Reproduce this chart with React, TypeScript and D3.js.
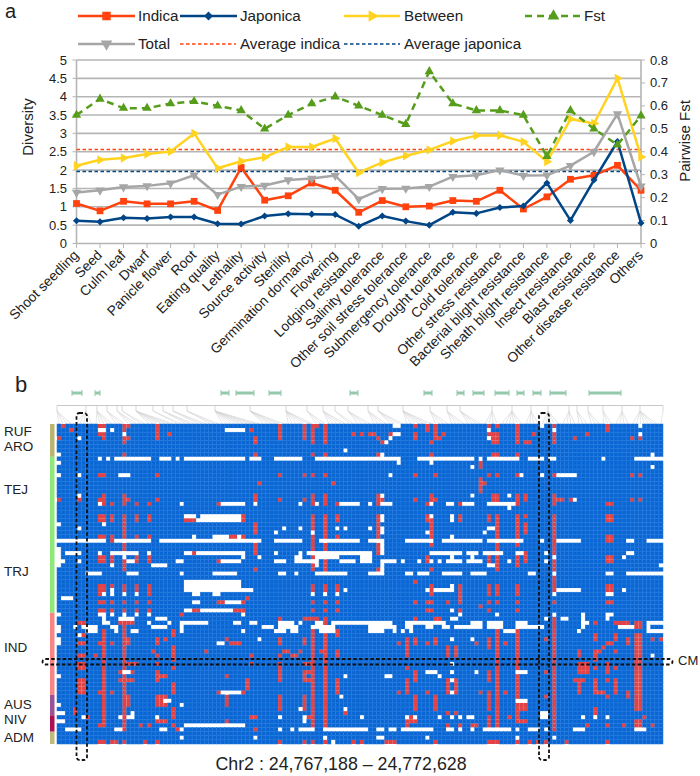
import * as d3 from 'd3';

const categories = ['Shoot seedling', 'Seed', 'Culm leaf', 'Dwarf', 'Panicle flower', 'Root', 'Eating quality', 'Lethality', 'Source activity', 'Sterility', 'Germination dormancy', 'Flowering', 'Lodging resistance', 'Salinity tolerance', 'Other soil stress tolerance', 'Submergency tolerance', 'Drought tolerance', 'Cold tolerance', 'Other stress resistance', 'Bacterial blight resistance', 'Sheath blight resistance', 'Insect resistance', 'Blast resistance', 'Other disease resistance', 'Others'];
const indica = [1.09, 0.89, 1.15, 1.08, 1.08, 1.15, 0.9, 2.07, 1.18, 1.3, 1.65, 1.45, 0.85, 1.17, 1.0, 1.02, 1.17, 1.15, 1.45, 0.94, 1.27, 1.75, 1.86, 2.13, 1.45];
const japonica = [0.62, 0.59, 0.7, 0.68, 0.72, 0.72, 0.54, 0.53, 0.75, 0.81, 0.8, 0.79, 0.47, 0.75, 0.61, 0.5, 0.85, 0.82, 0.98, 1.02, 1.65, 0.63, 1.73, 2.78, 0.56];
const between = [2.12, 2.28, 2.33, 2.44, 2.51, 3.0, 2.05, 2.24, 2.35, 2.63, 2.63, 2.86, 1.93, 2.21, 2.39, 2.55, 2.79, 2.94, 2.95, 2.77, 2.23, 3.39, 3.27, 4.5, 2.36];
const total = [1.39, 1.45, 1.54, 1.57, 1.64, 1.86, 1.33, 1.55, 1.58, 1.73, 1.77, 1.85, 1.21, 1.49, 1.5, 1.55, 1.82, 1.86, 2.0, 1.85, 1.86, 2.12, 2.5, 3.53, 1.56];
const fst = [0.56, 0.63, 0.59, 0.59, 0.61, 0.62, 0.6, 0.58, 0.5, 0.56, 0.61, 0.64, 0.6, 0.56, 0.52, 0.75, 0.61, 0.58, 0.58, 0.56, 0.38, 0.58, 0.5, 0.43, 0.557];
const averageIndica = 2.56;
const averageJaponica = 1.96;
const leftTicks = [0, 0.5, 1, 1.5, 2, 2.5, 3, 3.5, 4, 4.5, 5];
const rightTicks = [0, 0.1, 0.2, 0.3, 0.4, 0.5, 0.6, 0.7, 0.8];

const columnCount = 148;
const rowCount = 78;

// [firstRow, lastRow, firstCol, lastCol], inclusive
const redLeftTop = [
  [0, 0, 1, 1], [1, 1, 3, 3], [0, 0, 10, 11], [2, 3, 11, 11], [2, 2, 10, 10], [0, 4, 16, 16], [0, 0, 17, 17], [3, 3, 17, 17], [0, 3, 24, 24], [2, 2, 27, 27], [3, 3, 0, 0],
  [7, 7, 16, 16], [12, 12, 10, 11], [12, 12, 24, 24], [17, 19, 16, 16], [22, 35, 16, 16], [18, 18, 0, 0], [18, 18, 5, 5], [17, 19, 11, 11], [18, 18, 10, 10], [18, 18, 17, 17], [18, 18, 24, 24],
  [19, 19, 13, 13], [19, 19, 19, 19], [19, 19, 22, 22], [19, 19, 39, 39],
  [22, 22, 10, 11], [22, 22, 13, 13], [22, 22, 19, 19], [22, 22, 22, 22], [23, 23, 10, 11], [23, 23, 13, 13], [23, 23, 19, 19], [23, 23, 22, 22], [23, 23, 31, 33],
  [27, 27, 10, 11], [27, 28, 13, 13], [27, 27, 19, 19], [27, 27, 22, 22], [27, 27, 42, 43],
  [31, 31, 33, 33], [32, 32, 10, 11], [32, 32, 13, 13], [32, 32, 19, 19], [32, 32, 22, 22], [33, 33, 10, 11], [33, 33, 13, 13], [33, 33, 19, 19], [33, 33, 22, 22], [33, 33, 39, 39],
  [39, 41, 10, 11], [39, 41, 13, 13], [39, 41, 16, 16], [39, 41, 19, 19], [39, 41, 22, 22], [40, 40, 42, 44],
  [43, 43, 10, 11], [43, 43, 13, 13], [43, 43, 16, 16], [43, 43, 19, 19], [43, 43, 22, 22], [43, 43, 39, 40],
  [45, 45, 10, 11], [45, 45, 13, 13], [45, 45, 16, 16], [45, 45, 19, 19], [45, 45, 22, 22], [45, 45, 33, 34], [45, 45, 43, 44], [46, 46, 30, 30],
];

const redMiddleTop = [
  [0, 3, 54, 54], [0, 3, 60, 60], [0, 4, 62, 62], [0, 0, 63, 63], [0, 4, 65, 65], [2, 2, 72, 72], [2, 2, 74, 74], [2, 2, 76, 76], [2, 2, 77, 77], [3, 3, 78, 78], [4, 4, 79, 79], [2, 2, 81, 82],
  [0, 0, 87, 87], [2, 3, 87, 87], [0, 1, 90, 90], [0, 3, 92, 92], [4, 4, 91, 91], [3, 3, 93, 93], [2, 2, 94, 94], [3, 4, 48, 48], [1, 1, 47, 47],
  [7, 7, 48, 48], [7, 7, 62, 62], [7, 7, 65, 65], [7, 7, 78, 78], [7, 7, 91, 91],
  [12, 12, 54, 54], [12, 12, 60, 60], [12, 12, 62, 62], [12, 12, 65, 65], [12, 12, 87, 87], [12, 12, 92, 92], [14, 14, 49, 49], [14, 14, 67, 67],
  [17, 18, 48, 48], [17, 19, 62, 62], [17, 19, 65, 65], [17, 18, 78, 78], [18, 18, 79, 79], [17, 18, 91, 91], [18, 18, 92, 92], [18, 18, 54, 54], [18, 18, 60, 60], [18, 18, 87, 87],
  [19, 19, 68, 68], [19, 19, 78, 78], [19, 19, 90, 90], [19, 19, 98, 98],
  [22, 22, 45, 45], [22, 22, 68, 68], [22, 22, 78, 78], [22, 22, 90, 90], [22, 22, 98, 98], [23, 23, 45, 45], [23, 23, 68, 68], [23, 23, 78, 78], [23, 23, 90, 91], [23, 23, 98, 98],
  [24, 26, 48, 48], [22, 35, 62, 62], [22, 35, 65, 65], [24, 27, 78, 78], [24, 29, 91, 91], [27, 27, 68, 68], [27, 27, 45, 45], [29, 31, 48, 48], [29, 31, 78, 78], [32, 32, 90, 90], [33, 33, 90, 90], [35, 35, 48, 48], [35, 35, 78, 78], [35, 35, 91, 91],
  [39, 41, 62, 62], [39, 41, 65, 65], [39, 41, 68, 68], [39, 41, 91, 91], [38, 38, 87, 87], [39, 42, 98, 98], [42, 42, 46, 46], [43, 43, 45, 45], [43, 43, 62, 62], [43, 43, 65, 65], [43, 43, 68, 68], [43, 43, 87, 87], [43, 43, 90, 91], [43, 43, 95, 95], [43, 43, 98, 98],
  [45, 45, 45, 45], [45, 45, 65, 65], [45, 45, 68, 68], [45, 45, 62, 62], [45, 45, 90, 91], [45, 45, 98, 98],
];

const redRightTop = [
  [0, 3, 105, 105], [0, 0, 107, 107], [2, 4, 106, 107], [0, 4, 112, 112], [4, 4, 114, 115], [2, 2, 116, 116], [0, 4, 121, 121], [3, 3, 126, 126], [2, 2, 129, 129], [0, 1, 134, 134], [3, 3, 140, 140], [3, 3, 142, 142],
  [7, 7, 106, 107], [7, 7, 112, 112], [9, 9, 103, 103], [10, 10, 103, 103], [12, 12, 105, 105], [12, 12, 107, 107], [12, 12, 112, 112], [12, 12, 121, 121], [12, 12, 140, 140], [12, 12, 142, 142],
  [13, 16, 103, 103], [14, 14, 104, 104], [17, 18, 106, 107], [17, 19, 112, 112], [17, 18, 114, 114], [17, 19, 121, 121], [18, 18, 122, 123], [18, 18, 125, 125], [18, 18, 140, 140], [18, 18, 142, 142], [19, 19, 134, 135],
  [22, 35, 107, 107], [22, 29, 112, 112], [22, 22, 114, 114], [24, 26, 114, 114], [22, 41, 121, 121], [22, 22, 105, 105], [23, 23, 105, 105], [22, 22, 134, 135], [23, 23, 134, 135], [27, 28, 134, 135],
  [32, 33, 105, 105], [31, 34, 112, 112], [31, 33, 114, 114], [32, 33, 134, 135],
  [39, 41, 105, 105], [39, 41, 107, 107], [39, 41, 112, 112], [39, 41, 134, 135], [43, 43, 105, 105], [43, 43, 107, 107], [43, 43, 112, 112], [43, 43, 121, 121], [43, 43, 134, 135], [44, 44, 103, 103],
  [45, 45, 105, 105], [45, 45, 112, 112], [47, 47, 119, 119], [47, 47, 128, 128],
];

const redLeftBottom = [
  [48, 48, 5, 6], [47, 48, 15, 18], [47, 47, 24, 24], [50, 73, 11, 11], [49, 74, 16, 16], [51, 51, 5, 6], [53, 53, 5, 6], [56, 56, 5, 6], [58, 58, 5, 6], [59, 59, 5, 6], [62, 65, 5, 6],
  [52, 53, 17, 17], [66, 68, 17, 17], [53, 53, 10, 10], [53, 53, 13, 13], [65, 65, 10, 10], [65, 65, 13, 13], [56, 56, 9, 9],
  [52, 53, 24, 24], [52, 52, 26, 26], [60, 62, 24, 24], [61, 61, 25, 26], [50, 51, 28, 28], [54, 56, 28, 28], [59, 59, 28, 28], [57, 57, 28, 28], [63, 65, 28, 28], [69, 71, 28, 28],
  [55, 55, 23, 23], [56, 56, 24, 24], [58, 58, 24, 24], [55, 55, 36, 36], [52, 52, 41, 41], [61, 61, 41, 41], [66, 68, 41, 41], [72, 72, 41, 41], [53, 53, 42, 44], [65, 65, 39, 39],
  [58, 58, 16, 19], [60, 60, 15, 18], [62, 62, 15, 18], [66, 68, 24, 26], [69, 70, 4, 4], [71, 71, 7, 7], [72, 72, 24, 26], [73, 73, 28, 28], [74, 74, 29, 29], [73, 73, 20, 20], [73, 73, 22, 22], [73, 73, 10, 11],
  [77, 77, 10, 11], [77, 77, 13, 14], [77, 77, 16, 16], [77, 77, 21, 21], [77, 77, 24, 24],
];

const redMiddleBottom = [
  [47, 48, 54, 54], [47, 47, 60, 63], [47, 48, 65, 65], [47, 48, 87, 87], [47, 48, 92, 93],
  [50, 74, 62, 62], [50, 74, 65, 65], [50, 51, 68, 68], [55, 56, 68, 68], [62, 65, 68, 68], [52, 53, 54, 54], [52, 53, 60, 60], [52, 53, 85, 85], [52, 53, 87, 87], [52, 53, 92, 92],
  [53, 53, 83, 83], [53, 53, 90, 90], [54, 56, 95, 95], [54, 56, 97, 97], [54, 56, 85, 85], [55, 55, 55, 56], [55, 55, 59, 59], [55, 55, 64, 64], [56, 56, 47, 47], [56, 56, 57, 58], [56, 56, 54, 54],
  [58, 58, 47, 47], [58, 58, 60, 61], [58, 58, 54, 54], [59, 59, 54, 54], [60, 62, 54, 54], [60, 62, 60, 60], [60, 60, 61, 61], [62, 62, 61, 61], [60, 62, 87, 87], [59, 59, 85, 85], [60, 60, 92, 92],
  [62, 64, 46, 46], [62, 65, 85, 85], [62, 65, 95, 95], [62, 65, 97, 97], [65, 65, 45, 45], [65, 65, 83, 83], [65, 65, 90, 90],
  [66, 69, 54, 54], [66, 69, 60, 60], [66, 69, 87, 87], [66, 69, 92, 92], [70, 70, 70, 70], [70, 70, 95, 95], [70, 70, 97, 97], [71, 71, 54, 54], [71, 71, 60, 61], [71, 71, 85, 86], [71, 71, 87, 87], [71, 71, 47, 48], [72, 72, 85, 87], [73, 73, 85, 85], [73, 73, 95, 95], [73, 73, 98, 98], [74, 74, 48, 48],
  [77, 77, 54, 54], [77, 77, 60, 60], [77, 77, 62, 62], [77, 77, 65, 65], [77, 77, 72, 72], [77, 77, 74, 74], [77, 77, 80, 82], [77, 77, 92, 92],
];

const redRightBottom = [
  [48, 73, 107, 107], [48, 72, 112, 112], [46, 74, 121, 121], [48, 49, 141, 142], [48, 48, 131, 131], [48, 48, 136, 137], [48, 48, 138, 139], [51, 52, 131, 131], [51, 52, 136, 136], [51, 52, 141, 142],
  [52, 54, 105, 105], [53, 53, 102, 102], [53, 53, 109, 109], [52, 52, 119, 119], [52, 52, 139, 139], [53, 53, 139, 139], [52, 52, 136, 136], [53, 53, 135, 135], [53, 53, 134, 134], [54, 54, 133, 133], [55, 55, 132, 132], [52, 52, 145, 145], [52, 52, 147, 147],
  [55, 55, 127, 127], [55, 57, 131, 131], [55, 55, 136, 136], [53, 57, 141, 142], [56, 56, 127, 127], [58, 60, 127, 129], [59, 59, 131, 131], [59, 59, 136, 136], [58, 60, 134, 134], [58, 60, 141, 142], [60, 60, 119, 119], [61, 61, 141, 142],
  [60, 62, 105, 105], [62, 62, 126, 128], [62, 65, 127, 127], [62, 65, 131, 131], [62, 65, 136, 136], [62, 65, 141, 142], [62, 62, 134, 134], [65, 65, 103, 103], [65, 65, 109, 109], [65, 65, 132, 133], [65, 66, 139, 139], [66, 66, 119, 119], [66, 66, 134, 134],
  [65, 69, 105, 105], [68, 69, 113, 114], [66, 69, 141, 142], [69, 70, 131, 131], [71, 71, 110, 110], [71, 71, 105, 105], [71, 71, 143, 143], [72, 72, 112, 114], [72, 72, 105, 105], [73, 73, 101, 102], [73, 73, 105, 105], [73, 73, 129, 129], [73, 73, 134, 134], [73, 73, 145, 145], [72, 72, 141, 142], [73, 73, 141, 142], [73, 73, 138, 138],
  [77, 77, 105, 107], [77, 77, 112, 112], [77, 77, 115, 115], [77, 77, 117, 117], [77, 77, 119, 119], [77, 77, 124, 124], [77, 77, 134, 134],
];

const whiteLeft = [
  [1, 1, 10, 11], [1, 1, 13, 13], [2, 2, 16, 16], [1, 1, 41, 44], [7, 7, 0, 0], [9, 9, 0, 0], [8, 8, 10, 10], [8, 8, 12, 12], [8, 8, 14, 22], [8, 8, 25, 27], [8, 8, 29, 29], [8, 8, 31, 44],
  [12, 12, 0, 0], [12, 12, 5, 5], [12, 12, 15, 17], [3, 3, 5, 5], [17, 17, 5, 5], [19, 19, 10, 10], [19, 19, 30, 30], [19, 19, 40, 44],
  [22, 22, 31, 33], [22, 22, 35, 44], [23, 23, 34, 44], [24, 24, 0, 0], [24, 24, 11, 11], [25, 25, 5, 5],
  [27, 27, 33, 33], [27, 27, 38, 41], [27, 27, 44, 44], [28, 28, 0, 11], [28, 28, 14, 22], [28, 28, 25, 44],
  [30, 34, 0, 0], [31, 31, 2, 5], [31, 31, 10, 10], [31, 31, 13, 19], [31, 31, 22, 22], [31, 31, 31, 32], [31, 31, 34, 44], [33, 33, 0, 1], [32, 32, 16, 16], [33, 33, 5, 5], [33, 33, 17, 18], [33, 33, 29, 30], [33, 33, 40, 44], [34, 34, 13, 13], [34, 34, 23, 26],
  [36, 36, 7, 10], [36, 36, 17, 19], [36, 36, 30, 30], [36, 36, 38, 43], [38, 40, 31, 44], [40, 40, 13, 13], [41, 41, 11, 11], [41, 41, 13, 13], [41, 41, 16, 16], [41, 41, 19, 19], [41, 41, 33, 34], [41, 41, 38, 39],
  [42, 42, 1, 3], [43, 43, 33, 34], [43, 43, 41, 44], [45, 45, 31, 32], [45, 45, 35, 42], [46, 46, 0, 0], [46, 46, 10, 11], [46, 46, 13, 13], [46, 46, 16, 16], [46, 46, 19, 19], [46, 46, 22, 22],
  [47, 47, 11, 11], [47, 47, 15, 18], [48, 48, 11, 12], [48, 48, 22, 22], [47, 47, 24, 26], [48, 48, 27, 27], [48, 48, 31, 36], [48, 48, 43, 44], [48, 50, 30, 30],
  [49, 49, 0, 0], [49, 49, 4, 4], [49, 50, 7, 9], [49, 49, 6, 6], [49, 49, 13, 14], [49, 49, 23, 26], [50, 50, 0, 0], [50, 50, 14, 14], [50, 50, 18, 19],
  [52, 53, 0, 0], [51, 51, 5, 5], [53, 53, 39, 40], [61, 61, 0, 0], [60, 60, 16, 17], [65, 65, 40, 44], [67, 67, 26, 27], [68, 68, 30, 30], [68, 68, 0, 0],
  [70, 70, 0, 1], [71, 71, 15, 15], [70, 71, 18, 18], [71, 71, 17, 17], [71, 71, 24, 24], [71, 71, 6, 6], [72, 72, 0, 1], [73, 73, 31, 44], [74, 74, 2, 5], [74, 74, 14, 15], [74, 74, 25, 26], [74, 74, 30, 30], [76, 76, 30, 30],
];

const whiteMiddle = [
  [1, 1, 45, 45], [0, 0, 82, 83], [2, 2, 82, 83], [3, 3, 81, 81], [4, 4, 80, 80], [6, 6, 70, 70],
  [8, 8, 45, 45], [8, 8, 47, 49], [8, 8, 53, 59], [8, 8, 63, 83], [9, 9, 83, 83], [8, 8, 88, 100], [7, 7, 79, 79], [9, 9, 91, 91], [12, 12, 81, 81],
  [17, 17, 79, 79], [19, 19, 45, 45], [19, 19, 48, 48], [19, 19, 59, 59], [19, 19, 63, 63], [19, 19, 69, 73], [19, 19, 76, 76], [19, 19, 79, 81], [19, 19, 91, 91], [19, 19, 95, 96], [19, 19, 99, 100],
  [22, 22, 79, 79], [22, 22, 91, 91], [22, 22, 96, 96], [23, 23, 79, 79], [23, 23, 96, 96], [25, 25, 55, 55], [25, 25, 59, 59], [25, 25, 68, 68], [25, 25, 70, 70], [25, 25, 76, 76], [25, 26, 79, 79], [26, 26, 53, 53], [26, 26, 90, 90], [26, 26, 62, 62],
  [28, 28, 45, 49], [28, 28, 53, 59], [28, 28, 64, 73], [28, 28, 76, 79], [28, 28, 85, 91], [28, 28, 94, 100], [27, 27, 96, 96], [29, 31, 79, 79],
  [31, 31, 45, 45], [31, 31, 53, 53], [31, 31, 59, 59], [31, 31, 61, 76], [31, 31, 91, 98], [31, 31, 100, 100], [32, 32, 45, 45], [32, 32, 96, 96], [32, 32, 49, 49], [32, 32, 63, 68],
  [32, 33, 58, 59], [32, 33, 74, 76], [33, 33, 53, 55], [33, 33, 60, 62], [33, 34, 63, 63], [33, 33, 69, 72], [33, 33, 79, 82], [33, 33, 84, 84], [33, 33, 88, 88], [33, 33, 91, 91], [33, 33, 93, 93], [33, 33, 95, 98], [33, 33, 100, 100], [34, 35, 79, 79],
  [36, 36, 54, 55], [36, 36, 58, 58], [36, 36, 63, 69], [36, 36, 70, 70], [36, 36, 76, 79], [36, 36, 85, 86], [36, 36, 88, 90], [36, 36, 94, 98],
  [40, 40, 45, 47], [40, 40, 70, 70], [40, 40, 90, 90], [40, 40, 92, 95], [39, 40, 96, 96], [41, 41, 62, 62], [41, 41, 65, 65], [41, 41, 68, 68],
  [45, 45, 96, 96], [46, 46, 45, 45], [46, 46, 98, 98], [47, 47, 96, 97],
  [48, 48, 47, 48], [48, 48, 54, 57], [48, 48, 59, 59], [48, 48, 63, 64], [48, 48, 67, 81], [48, 48, 85, 89], [48, 48, 90, 94], [49, 49, 50, 52], [49, 49, 54, 58], [49, 49, 62, 67], [49, 49, 76, 82], [49, 49, 85, 86], [49, 49, 90, 91], [49, 49, 94, 95], [49, 49, 97, 100],
  [50, 50, 45, 45], [50, 50, 53, 55], [50, 50, 57, 58], [50, 50, 64, 67], [50, 50, 76, 79], [50, 50, 82, 82], [50, 50, 84, 84], [50, 50, 86, 86],
  [52, 52, 49, 49], [52, 52, 96, 96], [61, 61, 70, 70], [61, 61, 80, 81], [60, 60, 90, 92], [61, 61, 93, 93], [58, 58, 96, 96], [60, 60, 96, 96], [62, 62, 96, 96], [65, 65, 96, 96], [66, 66, 69, 69], [69, 69, 59, 59], [69, 69, 70, 70],
  [71, 71, 54, 54], [71, 71, 74, 74], [71, 71, 60, 60], [71, 71, 85, 85], [71, 71, 87, 87], [71, 71, 93, 93], [71, 71, 96, 96], [71, 71, 98, 98], [71, 71, 100, 100], [72, 72, 60, 60],
  [73, 73, 45, 45], [74, 74, 54, 54], [74, 74, 57, 57], [74, 74, 59, 62], [74, 74, 65, 69], [74, 74, 70, 75], [74, 74, 78, 79], [74, 74, 81, 82], [74, 74, 84, 91], [74, 74, 95, 96], [74, 74, 98, 98],
  [76, 76, 48, 48], [76, 76, 65, 65], [76, 76, 78, 79], [76, 76, 90, 90], [77, 77, 67, 67],
];

const whiteRight = [
  [1, 1, 105, 105], [3, 3, 105, 105], [0, 0, 118, 118], [1, 1, 121, 121], [0, 0, 142, 142], [2, 2, 142, 142],
  [8, 8, 101, 101], [8, 8, 103, 103], [8, 8, 105, 112], [8, 8, 115, 118], [8, 8, 120, 121], [8, 8, 133, 133], [8, 8, 141, 147], [7, 7, 145, 145], [10, 10, 101, 101], [10, 10, 145, 145],
  [12, 12, 113, 113], [12, 12, 118, 118], [12, 12, 122, 126], [17, 17, 101, 101], [17, 17, 110, 110], [18, 18, 126, 126], [19, 19, 101, 101], [19, 19, 105, 111], [20, 20, 110, 110],
  [25, 25, 105, 106], [26, 26, 104, 104], [28, 28, 101, 103], [28, 28, 105, 113], [28, 28, 118, 118], [28, 28, 122, 127], [28, 28, 139, 140], [28, 28, 144, 147],
  [31, 31, 101, 102], [31, 31, 104, 108], [31, 31, 112, 113], [31, 31, 119, 119], [31, 31, 139, 140], [32, 32, 101, 101], [32, 32, 121, 121], [32, 32, 138, 138], [33, 33, 101, 103], [34, 34, 105, 106], [33, 33, 110, 110], [33, 33, 119, 119], [34, 34, 147, 147],
  [36, 36, 101, 104], [36, 36, 115, 116], [36, 36, 121, 121], [36, 36, 134, 135], [36, 36, 139, 147], [40, 40, 122, 127], [41, 41, 121, 121], [40, 40, 138, 138], [41, 41, 134, 135],
  [46, 46, 107, 107], [46, 46, 121, 121], [46, 46, 134, 135], [47, 47, 123, 124], [47, 47, 119, 119], [47, 47, 134, 134],
  [48, 49, 101, 103], [48, 49, 105, 108], [50, 50, 109, 111], [48, 49, 112, 114], [49, 49, 115, 117], [49, 49, 118, 118], [46, 49, 128, 128], [48, 48, 129, 129], [50, 50, 127, 127], [49, 49, 137, 138], [49, 49, 139, 140], [48, 48, 144, 147], [48, 50, 144, 144], [50, 50, 145, 147], [49, 49, 106, 107],
  [52, 52, 101, 101], [56, 56, 145, 145], [60, 60, 112, 114], [60, 60, 102, 102], [67, 67, 112, 114], [70, 71, 118, 119], [71, 71, 101, 101], [71, 71, 128, 128], [71, 71, 131, 131], [71, 71, 134, 134], [74, 74, 101, 101], [74, 74, 104, 110], [74, 74, 112, 112], [74, 74, 115, 117], [74, 74, 119, 119], [74, 74, 126, 128], [74, 74, 141, 143], [76, 76, 112, 112], [76, 76, 121, 121],
];

const redBlocks = [...redLeftTop, ...redMiddleTop, ...redRightTop, ...redLeftBottom, ...redMiddleBottom, ...redRightBottom];
const whiteBlocks = [...whiteLeft, ...whiteMiddle, ...whiteRight];

const groupNames = ['RUF/ARO', 'TEJ/TRJ', 'IND', 'AUS', 'NIV', 'ADM'];
const groupRows = [8, 46, 66, 71, 75, 78];
const groupColors = ['#b9b56f', '#8ee87a', '#f98484', '#9b5295', '#ad0f52', '#c0bb7a'];
const groupLabels = ['RUF', 'ARO', 'TEJ', 'TRJ', 'IND', 'AUS', 'NIV', 'ADM'];
const groupLabelY = [436, 451, 494, 576, 652, 709, 724, 742];

// genes above the heatmap, start/end in pixels of the track
const geneStarts = [72, 95, 221, 236, 269, 350, 424, 457, 473, 495, 517, 533, 550, 589];
const geneEnds = [82, 100, 229, 254, 281, 358, 432, 464, 484, 509, 524, 541, 566, 621];

// [position on the track, first column, last column]
const snpFans = [[57, 0, 3], [86, 4, 8], [97, 9, 13], [107, 14, 16], [117, 17, 19], [122, 20, 21], [136, 22, 28], [153, 29, 30], [163, 31, 33], [173, 34, 36], [187, 37, 39], [215, 40, 49], [250, 50, 55], [286, 56, 62], [307, 63, 65], [323, 66, 70], [335, 71, 72], [348, 73, 76], [368, 77, 80], [378, 81, 84], [403, 85, 91], [430, 92, 95], [447, 96, 99], [460, 100, 103], [492, 104, 107], [512, 108, 113], [531, 114, 117], [548, 118, 122], [569, 123, 126], [577, 127, 129], [588, 130, 132], [603, 133, 135], [622, 136, 139], [640, 140, 146], [663, 147, 147]];

const FONT = '"Liberation Sans", Arial, sans-serif';
const TEXT = '#222';
const GRID = '#b5b5b5';
const RED = '#ff420e';
const NAVY = '#004586';
const YELLOW = '#ffd320';
const GREEN = '#579d1c';
const GREY = '#a6a6a6';

const x = d3.scalePoint<number>().domain(d3.range(categories.length)).range([76.5, 641]);
const yLeft = d3.scaleLinear().domain([0, 5]).range([243.5, 60]);
const yRight = d3.scaleLinear().domain([0, 0.8]).range([243.5, 60]);

const colX = d3.scaleBand<number>().domain(d3.range(columnCount)).range([57, 663]);
const rowY = d3.scaleBand<number>().domain(d3.range(rowCount)).range([424, 744]);

const lineOf = (scale: d3.ScaleLinear<number, number>) =>
  d3.line<number>().x((_, i) => x(i) as number).y((d) => scale(d));

const symbolPath = (type: d3.SymbolType, size: number) => d3.symbol().type(type).size(size)() as string;

const squareMark = symbolPath(d3.symbolSquare, 46);
const diamondMark = symbolPath(d3.symbolSquare, 25);
const triangleMark = symbolPath(d3.symbolTriangle, 38);

const series = [
  { name: 'Indica', values: indica, scale: yLeft, color: RED, mark: squareMark, turn: 0, dash: undefined },
  { name: 'Japonica', values: japonica, scale: yLeft, color: NAVY, mark: diamondMark, turn: 45, dash: undefined },
  { name: 'Between', values: between, scale: yLeft, color: YELLOW, mark: triangleMark, turn: 90, dash: undefined },
  { name: 'Fst', values: fst, scale: yRight, color: GREEN, mark: triangleMark, turn: 0, dash: '7 5' },
  { name: 'Total', values: total, scale: yLeft, color: GREY, mark: triangleMark, turn: 180, dash: undefined },
];

// matrix of the heatmap: 0 blue, 1 red, 2 white
const cells = d3.range(rowCount).map(() => d3.range(columnCount).map(() => 0));
const paint = (blocks: number[][], v: number) =>
  blocks.forEach(([r0, r1, c0, c1]) => {
    for (let r = r0; r <= r1; r++) for (let c = c0; c <= c1; c++) cells[r][c] = v;
  });
paint(redBlocks, 1);
paint(whiteBlocks, 2);
const cellColors = ['#0a66d2', '#e04245', '#ffffff'];

const legendRows = [
  { y: 16, x1: 78, x2: 135, textX: 138, s: 0 },
  { y: 16, x1: 180, x2: 237, textX: 240, s: 1 },
  { y: 16, x1: 344, x2: 400, textX: 404, s: 2 },
  { y: 16, x1: 525, x2: 582, textX: 584, s: 3 },
  { y: 44, x1: 78, x2: 135, textX: 138, s: 4 },
];

const DashedBox = ({ bx, by, w, h }: { bx: number; by: number; w: number; h: number }) => (
  <rect x={bx} y={by} width={w} height={h} rx={3} fill="none" stroke="#111" strokeWidth={1.8} strokeDasharray="3.5 2.2" />
);

const App = () => {
  return (
    <svg width={700} height={776} style={{ position: 'absolute', left: 0, top: 0, background: '#fff' }} fontFamily={FONT}>
      <text x={5} y={18} fontSize={20} fill={TEXT}>a</text>

      {/* legend */}
      {legendRows.map((l) => {
        const s = series[l.s];
        return (
          <g key={s.name}>
            <line x1={l.x1} x2={l.x2} y1={l.y} y2={l.y} stroke={s.color} strokeWidth={2.5} strokeDasharray={s.dash} />
            <path d={s.mark} transform={`translate(${(l.x1 + l.x2) / 2},${l.y}) rotate(${s.turn}) scale(1.25)`} fill={s.color} />
            <text x={l.textX} y={l.y + 5} fontSize={15.2} fill={TEXT}>{s.name}</text>
          </g>
        );
      })}
      <line x1={180} x2={236} y1={44} y2={44} stroke={RED} strokeWidth={1.5} strokeDasharray="3.5 2.5" />
      <text x={240} y={49} fontSize={15.2} fill={TEXT}>Average indica</text>
      <line x1={344} x2={400} y1={44} y2={44} stroke={NAVY} strokeWidth={1.5} strokeDasharray="3.5 2.5" />
      <text x={404} y={49} fontSize={15.2} fill={TEXT}>Average japonica</text>

      {/* grid and axes */}
      {leftTicks.map((t) => (
        <g key={t}>
          <line x1={76.5} x2={641} y1={yLeft(t)} y2={yLeft(t)} stroke={GRID} strokeWidth={1.6} />
          <line x1={72.5} x2={76.5} y1={yLeft(t)} y2={yLeft(t)} stroke={GRID} strokeWidth={1} />
          <text x={67} y={yLeft(t) + 4.5} fontSize={13} textAnchor="end" fill={TEXT}>{t}</text>
        </g>
      ))}
      {rightTicks.map((t) => (
        <g key={t}>
          <line x1={641} x2={645} y1={yRight(t)} y2={yRight(t)} stroke={GRID} strokeWidth={1} />
          <text x={650} y={yRight(t) + 4.5} fontSize={13} fill={TEXT}>{t}</text>
        </g>
      ))}
      <line x1={76.5} x2={76.5} y1={60} y2={243.5} stroke={GRID} strokeWidth={1.6} />
      <line x1={641} x2={641} y1={60} y2={243.5} stroke={GRID} strokeWidth={1.6} />
      <text transform="translate(33,127) rotate(-90)" fontSize={15} textAnchor="middle" fill={TEXT}>Diversity</text>
      <text transform="translate(690,141) rotate(-90)" fontSize={15} textAnchor="middle" fill={TEXT}>Pairwise Fst</text>
      {categories.map((c, i) => (
        <g key={c}>
          <line x1={x(i)} x2={x(i)} y1={243.5} y2={248} stroke={GRID} strokeWidth={1} />
          <text transform={`translate(${(x(i) as number) + 3},${256}) rotate(-45)`} fontSize={13.8} textAnchor="end" fill={TEXT}>{c}</text>
        </g>
      ))}

      <line x1={76.5} x2={641} y1={yLeft(averageIndica)} y2={yLeft(averageIndica)} stroke={RED} strokeWidth={1.5} strokeDasharray="3.5 2.5" />
      <line x1={76.5} x2={641} y1={yLeft(averageJaponica)} y2={yLeft(averageJaponica)} stroke={NAVY} strokeWidth={1.5} strokeDasharray="3.5 2.5" />

      {/* series */}
      {series.map((s) => (
        <g key={s.name}>
          <path d={lineOf(s.scale)(s.values) as string} fill="none" stroke={s.color} strokeWidth={2.5} strokeLinejoin="round" strokeDasharray={s.dash} />
          {s.values.map((v, i) => (
            <path key={i} d={s.mark} transform={`translate(${x(i)},${s.scale(v)}) rotate(${s.turn})`} fill={s.color} />
          ))}
        </g>
      ))}

      <text x={15} y={392} fontSize={22} fill={TEXT}>b</text>

      {/* gene track */}
      {geneStarts.map((g, i) => (
        <g key={g} stroke="#93c9aa">
          <line x1={g} x2={geneEnds[i]} y1={393} y2={393} strokeWidth={3} />
          <line x1={g} x2={g} y1={390} y2={396} strokeWidth={1} />
          <line x1={geneEnds[i]} x2={geneEnds[i]} y1={390} y2={396} strokeWidth={1} />
        </g>
      ))}

      {/* connectors from track to columns */}
      <line x1={57} x2={663} y1={405.5} y2={405.5} stroke="#c8c8c8" strokeWidth={1} />
      {snpFans.map(([pos, c0, c1]) => (
        <g key={pos} stroke="#d4d4d4" strokeWidth={0.6} fill="none">
          <line x1={pos} x2={pos} y1={405.5} y2={411} stroke="#bdbdbd" />
          {d3.range(c0, c1 + 1).map((c) => (
            <line key={c} x1={pos} y1={411} x2={(colX(c) as number) + colX.bandwidth() / 2} y2={424} />
          ))}
        </g>
      ))}

      {/* heatmap */}
      <g strokeWidth={0.5}>
        {cells.map((row, r) =>
          row.map((v, c) => (
            <rect
              key={`${r}-${c}`}
              x={colX(c)}
              y={rowY(r)}
              width={colX.bandwidth()}
              height={rowY.bandwidth()}
              fill={cellColors[v]}
              stroke={v === 0 ? '#2079e0' : 'none'}
            />
          ))
        )}
      </g>

      {/* population bar */}
      {groupNames.map((g, i) => {
        const from = i === 0 ? 0 : groupRows[i - 1];
        const top = rowY(from) as number;
        return <rect key={g} x={50} y={top} width={4.5} height={(groupRows[i] - from) * rowY.bandwidth()} fill={groupColors[i]} />;
      })}
      {groupLabels.map((g, i) => (
        <text key={g} x={4} y={groupLabelY[i]} fontSize={13.5} fill={TEXT}>{g}</text>
      ))}

      <DashedBox bx={76.5} by={413} w={10.5} h={347} />
      <DashedBox bx={539} by={413} w={10} h={347} />
      <DashedBox bx={42.5} by={659} w={630} h={5.5} />
      <text x={678} y={665} fontSize={13} fill={TEXT}>CM</text>

      <text x={341} y={770} fontSize={17.8} textAnchor="middle" fill={TEXT}>Chr2 : 24,767,188 – 24,772,628</text>
    </svg>
  );
};

export default App;
